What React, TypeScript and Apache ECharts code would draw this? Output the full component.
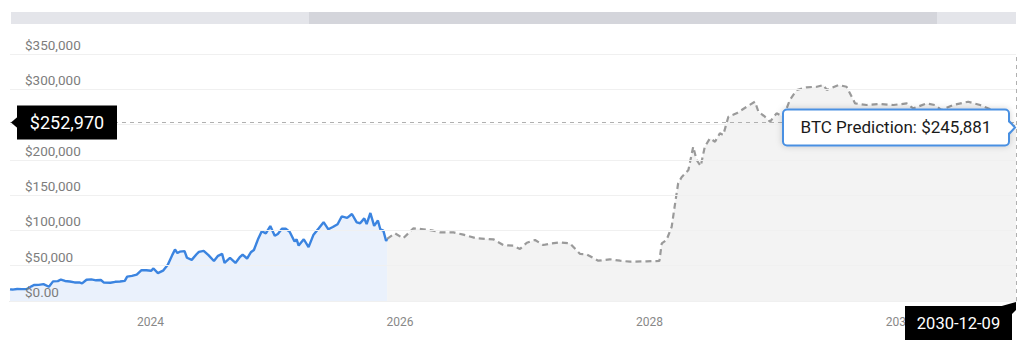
import React, { useEffect, useRef } from "react";
import * as echarts from "echarts";

// ---------- data ----------
const histDates = [
  "2022-11-16", "2022-11-23", "2022-12-07", "2022-12-21", "2023-01-04", "2023-01-18", "2023-01-25",
  "2023-02-08", "2023-02-22", "2023-03-10", "2023-03-22", "2023-04-05", "2023-04-14", "2023-04-26",
  "2023-05-10", "2023-05-24", "2023-06-07", "2023-06-15", "2023-06-28", "2023-07-12", "2023-07-26",
  "2023-08-09", "2023-08-18", "2023-09-06", "2023-09-20", "2023-10-04", "2023-10-18", "2023-10-25",
  "2023-11-08", "2023-11-22", "2023-12-06", "2023-12-20", "2024-01-03", "2024-01-10", "2024-01-23",
  "2024-02-07", "2024-02-21", "2024-03-06", "2024-03-13", "2024-03-20", "2024-03-27", "2024-04-10",
  "2024-04-17", "2024-05-01", "2024-05-15", "2024-05-22", "2024-06-05", "2024-06-19", "2024-07-05",
  "2024-07-17", "2024-07-29", "2024-08-05", "2024-08-21", "2024-09-06", "2024-09-18", "2024-09-27",
  "2024-10-10", "2024-10-21", "2024-10-30", "2024-11-12", "2024-11-22", "2024-12-04", "2024-12-17",
  "2024-12-30", "2025-01-08", "2025-01-20", "2025-01-31", "2025-02-12", "2025-02-26", "2025-03-04",
  "2025-03-10", "2025-03-25", "2025-04-08", "2025-04-22", "2025-05-08", "2025-05-22", "2025-06-05",
  "2025-06-18", "2025-07-02", "2025-07-14", "2025-07-30", "2025-08-13", "2025-08-27", "2025-09-06",
  "2025-09-18", "2025-09-25", "2025-10-06", "2025-10-17", "2025-10-28", "2025-11-04", "2025-11-13",
  "2025-11-21", "2025-11-24",
];
const histValues = [
  16500, 16200, 17000, 16800, 16850, 20800, 22600,
  22800, 24000, 20200, 27800, 28100, 30400, 28400,
  27600, 26300, 26400, 25000, 30100, 30600, 29300,
  29700, 26100, 25800, 27200, 27600, 28500, 34500,
  35600, 37400, 43800, 43600, 42800, 46100, 39500,
  43000, 51400, 66100, 73100, 67900, 69900, 70600,
  61300, 58300, 66200, 69700, 71000, 65000, 56700,
  64000, 66800, 54000, 61000, 53900, 61700, 65800,
  60200, 69000, 72300, 88700, 98900, 95800, 106100,
  92400, 95000, 102300, 102400, 97900, 84300, 87200,
  78500, 87500, 76300, 93400, 103000, 111700, 101600,
  104800, 108800, 119800, 117800, 123300, 111300, 110200,
  117100, 109000, 124700, 106500, 114100, 101600, 99700,
  85100, 88000,
];

const predDates = [
  "2025-11-24", "2025-12-17", "2026-01-10", "2026-02-09", "2026-03-10", "2026-04-08", "2026-04-28",
  "2026-06-06", "2026-07-05", "2026-08-13", "2026-10-01", "2026-10-30", "2026-11-28", "2026-12-18",
  "2027-01-07", "2027-01-31", "2027-02-24", "2027-03-21", "2027-04-14", "2027-05-13", "2027-06-12",
  "2027-07-01", "2027-08-04", "2027-09-07", "2027-10-07", "2027-11-05", "2027-12-24", "2028-01-30",
  "2028-02-06", "2028-02-20", "2028-03-06", "2028-03-16", "2028-03-25", "2028-04-04", "2028-04-24",
  "2028-05-08", "2028-05-18", "2028-05-30", "2028-06-11", "2028-06-26", "2028-07-11", "2028-07-25",
  "2028-08-04", "2028-08-19", "2028-09-12", "2028-10-12", "2028-11-05", "2028-11-15", "2028-12-04",
  "2028-12-19", "2029-01-07", "2029-01-27", "2029-02-15", "2029-03-07", "2029-04-05", "2029-05-05",
  "2029-05-24", "2029-06-03", "2029-07-07", "2029-07-31", "2029-08-25", "2029-09-28", "2029-11-06",
  "2029-12-15", "2030-01-23", "2030-02-11", "2030-03-23", "2030-04-16", "2030-05-05", "2030-06-08",
  "2030-07-22", "2030-08-26", "2030-10-13", "2030-12-09",
];
const predValues = [
  88000, 95900, 88800, 103000, 101600, 99600, 97300,
  97300, 94000, 88800, 87400, 79300, 78400, 73700,
  82600, 86400, 79300, 81700, 83100, 81700, 66600,
  66100, 57100, 59100, 57100, 55700, 56200, 56700,
  81700, 86400, 105000, 138000, 166800, 175300, 185600,
  218600, 199800, 191300, 218600, 230500, 225700, 237600,
  235200, 261100, 265900, 275300, 282400, 268200, 261100,
  254000, 265900, 261100, 284800, 299000, 302800, 303600,
  306000, 299000, 306000, 303600, 280000, 277700, 279100,
  277700, 280000, 273000, 280000, 277700, 270600, 277700,
  282400, 277700, 268000, 245881,
];

const xTickDates = ["2024-01-01", "2026-01-01", "2028-01-01", "2030-01-01"];
const xMinDate = "2022-11-16";
const crossDate = "2030-12-09";
const crossValue = 252970;
const tooltipName = "BTC Prediction";

const FONT = 'Roboto, "Noto Sans", sans-serif';

const toTs = (s: string) => {
  const [y, m, d] = s.split("-").map(Number);
  return new Date(y, m - 1, d).getTime();
};
const money = (v: number) => "$" + Math.round(v).toLocaleString("en-US");

export default function App() {
  const ref = useRef<HTMLDivElement>(null);

  useEffect(() => {
    document.body.style.margin = "0";
    const chart = echarts.init(ref.current as HTMLDivElement, null, { renderer: "svg" });

    const hist = histDates.map((d, i) => [toTs(d), histValues[i]]);
    const pred = predDates.map((d, i) => [toTs(d), predValues[i]]);

    chart.setOption({
      animation: false,
      grid: { left: 10, right: 8, top: 54, bottom: 48 },
      xAxis: {
        type: "value",
        min: toTs(xMinDate),
        max: toTs(crossDate),
        axisLine: { lineStyle: { color: "#cfcfcf", width: 1 } },
        axisTick: { show: false },
        splitLine: { show: false },
        axisLabel: {
          customValues: xTickDates.map(toTs),
          formatter: (v: number) => String(new Date(v).getFullYear()),
          color: "#888",
          fontSize: 12,
          fontFamily: FONT,
          margin: 15,
        },
      },
      yAxis: {
        type: "value",
        min: 0,
        max: 350000,
        interval: 50000,
        axisLine: { show: false },
        axisTick: { show: false },
        splitLine: { lineStyle: { color: "#f0f0f0", width: 1 } },
        axisLabel: {
          inside: true,
          margin: 15,
          color: "#7d7d7d",
          fontSize: 13.5,
          fontFamily: FONT,
          verticalAlign: "bottom",
          lineHeight: 14,
          padding: [0, 0, 2, 0],
          formatter: (v: number) => (v === 0 ? "$0.00" : money(v)),
        },
        z: 5,
      },
      series: [
        {
          name: "BTC Price",
          type: "line",
          data: hist,
          showSymbol: false,
          symbol: "none",
          lineStyle: { color: "#3b84e0", width: 2.4 },
          areaStyle: { color: "#eaf1fc", opacity: 1 },
          z: 3,
        },
        {
          name: tooltipName,
          type: "line",
          data: pred,
          showSymbol: false,
          symbol: "none",
          lineStyle: { color: "#9a9a9a", width: 2.2, type: [6, 4] },
          areaStyle: { color: "#f3f3f3", opacity: 1 },
          z: 2,
          markLine: {
            silent: true,
            symbol: ["none", "none"],
            label: { show: false },
            lineStyle: { color: "#b0b0b0", width: 1, type: [4, 4] },
            data: [{ yAxis: crossValue }, { xAxis: toTs(crossDate) }],
          },
        },
      ],
    });

    const lastVal = predValues[predValues.length - 1];
    const p = chart.convertToPixel({ gridIndex: 0 }, [toTs(crossDate), lastVal]) as number[];
    const cy = (chart.convertToPixel({ gridIndex: 0 }, [toTs(crossDate), crossValue]) as number[])[1];
    const origin = chart.convertToPixel({ gridIndex: 0 }, [toTs(xMinDate), 0]) as number[];
    const gridLeft = origin[0];
    const axisY = origin[1];

    const tipW = 226;
    const tipH = 36;
    const tipRight = p[0] - 7;
    const tipLeft = tipRight - tipW;
    const tipTop = p[1] - tipH / 2;

    const yBoxLeft = gridLeft + 7;
    const yBoxW = 100;
    const yBoxH = 34;

    const xBoxRight = p[0] - 4;
    const xBoxW = 107;
    const xBoxH = 34;
    const xBoxTop = axisY + 5;

    chart.setOption({
      graphic: [
        { type: "rect", shape: { x: 11, y: 12, width: 1005, height: 12 }, style: { fill: "#e4e5ea" }, z: 50 },
        { type: "rect", shape: { x: 309, y: 12, width: 628, height: 12 }, style: { fill: "#d4d5db" }, z: 51 },

        {
          type: "polygon",
          shape: { points: [[yBoxLeft + 1, cy - 6], [gridLeft + 1, cy], [yBoxLeft + 1, cy + 6]] },
          style: { fill: "#000" },
          z: 100,
        },
        {
          type: "rect",
          shape: { x: yBoxLeft, y: cy - yBoxH / 2, width: yBoxW, height: yBoxH },
          style: { fill: "#000" },
          z: 100,
        },
        {
          type: "text",
          x: yBoxLeft + yBoxW / 2,
          y: cy,
          style: { text: money(crossValue), fill: "#fff", fontSize: 18, fontFamily: FONT, align: "center", verticalAlign: "middle" },
          z: 101,
        },

        {
          type: "rect",
          shape: { x: xBoxRight - xBoxW, y: xBoxTop, width: xBoxW, height: xBoxH },
          style: { fill: "#000" },
          z: 100,
        },
        {
          type: "polygon",
          shape: { points: [[xBoxRight - 12, xBoxTop + 0.5], [p[0], axisY + 1], [p[0], xBoxTop + 4], [xBoxRight, xBoxTop + 8]] },
          style: { fill: "#000" },
          z: 100,
        },
        {
          type: "text",
          x: xBoxRight - xBoxW / 2,
          y: xBoxTop + xBoxH / 2,
          style: { text: crossDate, fill: "#fff", fontSize: 16.5, fontFamily: FONT, align: "center", verticalAlign: "middle" },
          z: 101,
        },

        {
          type: "rect",
          shape: { x: tipLeft, y: tipTop, width: tipW, height: tipH, r: 4 },
          style: { fill: "#fff", stroke: "#4a90e2", lineWidth: 2, shadowBlur: 6, shadowColor: "rgba(0,0,0,0.18)" },
          z: 110,
        },
        {
          type: "polygon",
          shape: { points: [[tipRight - 1.5, p[1] - 6], [tipRight + 6, p[1]], [tipRight - 1.5, p[1] + 6]] },
          style: { fill: "#fff" },
          z: 111,
        },
        {
          type: "polyline",
          shape: { points: [[tipRight, p[1] - 6.5], [tipRight + 6, p[1]], [tipRight, p[1] + 6.5]] },
          style: { stroke: "#4a90e2", lineWidth: 2, fill: null },
          z: 112,
        },
        {
          type: "text",
          x: tipLeft + tipW / 2,
          y: p[1],
          style: {
            text: `${tooltipName}: ${money(lastVal)}`,
            fill: "#1a1a1a",
            fontSize: 17,
            fontFamily: FONT,
            align: "center",
            verticalAlign: "middle",
          },
          z: 113,
        },
      ],
    });

    return () => chart.dispose();
  }, []);

  return <div ref={ref} style={{ width: 1024, height: 349 }} />;
}
